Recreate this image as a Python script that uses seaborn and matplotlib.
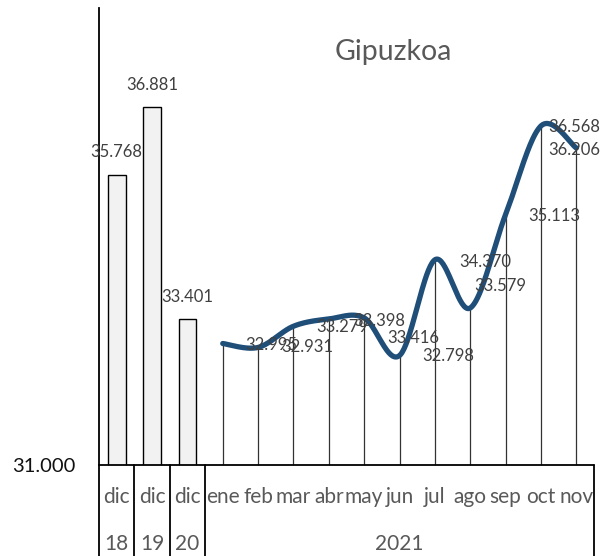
import numpy as np
import pandas as pd
import matplotlib
matplotlib.use("Agg")
import matplotlib.pyplot as plt
import matplotlib.transforms as mtransforms
import seaborn as sns

# Datos
years = ["18", "19", "20"]
dic_values = [35.768, 36.881, 33.401]
months = ["ene", "feb", "mar", "abr", "may", "jun", "jul", "ago", "sep", "oct", "nov"]
month_values = [32.995, 32.931, 33.279, 33.398, 33.416, 32.798, 34.370, 33.579, 35.113, 36.568, 36.206]
year_2021 = "2021"
title = "Gipuzkoa"

# posiciones de las etiquetas de datos (pixeles, relativas al punto)
label_dx = [49, 49, 49, 50, 49, 49, 50, 30, 49, 33, -2]
label_dy = [-1, 0, -1, -2, -20, 0, -2, 22, -1, -1, -2]

sns.set_style("white")
plt.rcParams['font.family'] = ['Lato', 'DejaVu Sans']

fig = plt.figure(figsize=(6.01, 5.56), dpi=100)
ax = fig.add_axes([99 / 601, 91 / 556, 495 / 601, 456.7 / 556])

ymin, ymax = 31, 38.5
n_dic = len(dic_values)
x_dic = np.arange(n_dic)
x_month = np.arange(n_dic, n_dic + len(months))

# barras de diciembre
df_dic = pd.DataFrame({"x": x_dic, "valor": dic_values})
sns.barplot(data=df_dic, x="x", y="valor", native_scale=True, width=0.5,
            color="#F2F2F2", edgecolor="black", linewidth=1.0, saturation=1, ax=ax)

# lineas verticales de los meses
ax.vlines(x_month, ymin, month_values, color="#333333", linewidth=0.9, zorder=2)


# linea suavizada (tipo excel, bezier con tangentes catmull-rom)
def suavizar(x, y, n=40):
    x = np.asarray(x, float)
    y = np.asarray(y, float)
    px = np.concatenate([[x[0]], x, [x[-1]]])
    py = np.concatenate([[y[0]], y, [y[-1]]])
    xs, ys = [], []
    t = np.linspace(0, 1, n)
    for i in range(1, len(px) - 2):
        p0 = np.array([px[i], py[i]])
        p3 = np.array([px[i + 1], py[i + 1]])
        p1 = p0 + (p3 - np.array([px[i - 1], py[i - 1]])) / 6
        p2 = p3 - (np.array([px[i + 2], py[i + 2]]) - p0) / 6
        b = ((1 - t) ** 3)[:, None] * p0 + (3 * (1 - t) ** 2 * t)[:, None] * p1 \
            + (3 * (1 - t) * t ** 2)[:, None] * p2 + (t ** 3)[:, None] * p3
        xs.append(b[:, 0])
        ys.append(b[:, 1])
    return np.concatenate(xs), np.concatenate(ys)


sx, sy = suavizar(x_month, month_values)
ax.plot(sx, sy, color="#1F4E79", linewidth=3.8, solid_capstyle="round", zorder=3)

ax.set_xlim(-0.5, n_dic + len(months) - 0.5)
ax.set_ylim(ymin, ymax)


def fmt(v):
    return f"{v:.3f}"


# etiquetas de datos
for xi, v in zip(x_dic, dic_values):
    ax.annotate(fmt(v), (xi, v), xytext=(0, 16), textcoords="offset points",
                ha="center", va="center", fontsize=12, color="#404040", zorder=5)
for xi, v, dx, dy in zip(x_month, month_values, label_dx, label_dy):
    ax.annotate(fmt(v), (xi, v), xytext=(dx * 0.72, dy * 0.72), textcoords="offset points",
                ha="center", va="center", fontsize=12, color="#404040", zorder=5,
                annotation_clip=False)

# ejes
for s in ["top", "right", "bottom"]:
    ax.spines[s].set_visible(False)
ax.spines["left"].set_color("black")
ax.spines["left"].set_linewidth(1.3)
ax.set_yticks([ymin])
ax.set_yticklabels(["31.000"], fontsize=14.5, color="#111111")
ax.tick_params(axis="y", length=0, pad=17)
ax.set_xticks([])
ax.set_xlabel("")
ax.set_ylabel("")

# tabla de categorias inferior
trans = mtransforms.blended_transform_factory(ax.transData, ax.transAxes)
bottom = -91 / 456.7
ax.plot([-0.5, n_dic + len(months) - 0.5], [0, 0], transform=trans, color="black",
        linewidth=1.3, clip_on=False, zorder=4)
for xb in [-0.5, 0.5, 1.5, 2.5, n_dic + len(months) - 0.5]:
    ax.plot([xb, xb], [0, bottom], transform=trans, color="black", linewidth=1.3,
            clip_on=False)

row1 = -32 / 456.7
row2 = -79 / 456.7
for xi, yr in zip(x_dic, years):
    ax.text(xi, row1, "dic", transform=trans, ha="center", va="center",
            fontsize=15, color="#595959")
    ax.text(xi, row2, yr, transform=trans, ha="center", va="center",
            fontsize=15, color="#595959")
for xi, m in zip(x_month, months):
    ax.text(xi, row1, m, transform=trans, ha="center", va="center",
            fontsize=15, color="#595959")
ax.text(x_month.mean(), row2, year_2021, transform=trans, ha="center", va="center",
        fontsize=15, color="#595959")

fig.text(393 / 601, 1 - 52 / 556, title, ha="center", va="center",
         fontsize=20.5, color="#595959")

fig.savefig("out.png", dpi=100)
